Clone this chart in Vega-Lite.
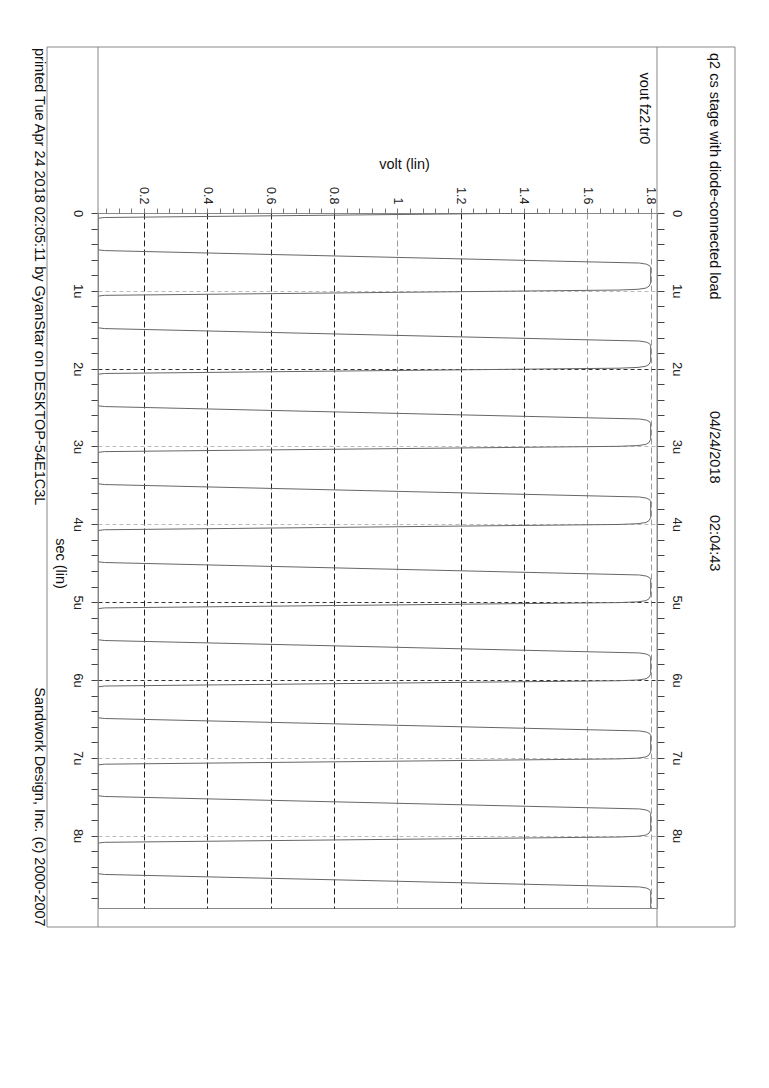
{
  "$schema": "https://vega.github.io/schema/vega-lite/v6.json",
  "width": 559,
  "height": 695,
  "autosize": {"type": "none"},
  "padding": {"left": 98, "top": 213, "right": 112, "bottom": 180},
  "background": "white",
  "config": {
    "view": {"stroke": "#888", "strokeWidth": 1},
    "font": "Liberation Sans",
    "axis": {"labelFont": "Liberation Sans", "titleFont": "Liberation Sans", "titleFontWeight": "normal", "domain": false, "labelFlush": false, "labelOverlap": false, "labelColor": "#222", "titleColor": "#111"}
  },
  "resolve": {"axis": {"x": "independent", "y": "independent"}},
  "layer": [
    {
      "data": {"values": [
        {"t": 0, "v": 1.47}, {"t": 0.058, "v": 0.075}, {"t": 0.068, "v": 0.0548},
        {"t": 0.473, "v": 0.0548}, {"t": 0.483, "v": 0.075}, {"t": 0.643, "v": 1.765}, {"t": 0.658, "v": 1.787}, {"t": 0.678, "v": 1.797}, {"t": 0.703, "v": 1.8},
        {"t": 0.9, "v": 1.8}, {"t": 0.94, "v": 1.795}, {"t": 0.965, "v": 1.785}, {"t": 0.98, "v": 1.76}, {"t": 0.99, "v": 1.7}, {"t": 1.058, "v": 0.075}, {"t": 1.068, "v": 0.0548},
        {"t": 1.475, "v": 0.0548}, {"t": 1.485, "v": 0.075}, {"t": 1.645, "v": 1.765}, {"t": 1.66, "v": 1.787}, {"t": 1.68, "v": 1.797}, {"t": 1.705, "v": 1.8},
        {"t": 1.904, "v": 1.8}, {"t": 1.944, "v": 1.795}, {"t": 1.969, "v": 1.785}, {"t": 1.984, "v": 1.76}, {"t": 1.994, "v": 1.7}, {"t": 2.062, "v": 0.075}, {"t": 2.072, "v": 0.0548},
        {"t": 2.477, "v": 0.0548}, {"t": 2.487, "v": 0.075}, {"t": 2.647, "v": 1.765}, {"t": 2.662, "v": 1.787}, {"t": 2.682, "v": 1.797}, {"t": 2.707, "v": 1.8},
        {"t": 2.908, "v": 1.8}, {"t": 2.948, "v": 1.795}, {"t": 2.973, "v": 1.785}, {"t": 2.988, "v": 1.76}, {"t": 2.998, "v": 1.7}, {"t": 3.066, "v": 0.075}, {"t": 3.076, "v": 0.0548},
        {"t": 3.479, "v": 0.0548}, {"t": 3.489, "v": 0.075}, {"t": 3.649, "v": 1.765}, {"t": 3.664, "v": 1.787}, {"t": 3.684, "v": 1.797}, {"t": 3.709, "v": 1.8},
        {"t": 3.912, "v": 1.8}, {"t": 3.952, "v": 1.795}, {"t": 3.977, "v": 1.785}, {"t": 3.992, "v": 1.76}, {"t": 4.002, "v": 1.7}, {"t": 4.07, "v": 0.075}, {"t": 4.08, "v": 0.0548},
        {"t": 4.481, "v": 0.0548}, {"t": 4.491, "v": 0.075}, {"t": 4.651, "v": 1.765}, {"t": 4.666, "v": 1.787}, {"t": 4.686, "v": 1.797}, {"t": 4.711, "v": 1.8},
        {"t": 4.916, "v": 1.8}, {"t": 4.956, "v": 1.795}, {"t": 4.981, "v": 1.785}, {"t": 4.996, "v": 1.76}, {"t": 5.006, "v": 1.7}, {"t": 5.074, "v": 0.075}, {"t": 5.084, "v": 0.0548},
        {"t": 5.483, "v": 0.0548}, {"t": 5.493, "v": 0.075}, {"t": 5.653, "v": 1.765}, {"t": 5.668, "v": 1.787}, {"t": 5.688, "v": 1.797}, {"t": 5.713, "v": 1.8},
        {"t": 5.92, "v": 1.8}, {"t": 5.96, "v": 1.795}, {"t": 5.985, "v": 1.785}, {"t": 6.0, "v": 1.76}, {"t": 6.01, "v": 1.7}, {"t": 6.078, "v": 0.075}, {"t": 6.088, "v": 0.0548},
        {"t": 6.485, "v": 0.0548}, {"t": 6.495, "v": 0.075}, {"t": 6.655, "v": 1.765}, {"t": 6.67, "v": 1.787}, {"t": 6.69, "v": 1.797}, {"t": 6.715, "v": 1.8},
        {"t": 6.924, "v": 1.8}, {"t": 6.964, "v": 1.795}, {"t": 6.989, "v": 1.785}, {"t": 7.004, "v": 1.76}, {"t": 7.014, "v": 1.7}, {"t": 7.082, "v": 0.075}, {"t": 7.092, "v": 0.0548},
        {"t": 7.487, "v": 0.0548}, {"t": 7.497, "v": 0.075}, {"t": 7.657, "v": 1.765}, {"t": 7.672, "v": 1.787}, {"t": 7.692, "v": 1.797}, {"t": 7.717, "v": 1.8},
        {"t": 7.928, "v": 1.8}, {"t": 7.968, "v": 1.795}, {"t": 7.993, "v": 1.785}, {"t": 8.008, "v": 1.76}, {"t": 8.018, "v": 1.7}, {"t": 8.086, "v": 0.075}, {"t": 8.096, "v": 0.0548},
        {"t": 8.489, "v": 0.0548}, {"t": 8.499, "v": 0.075}, {"t": 8.659, "v": 1.765}, {"t": 8.674, "v": 1.787}, {"t": 8.694, "v": 1.797}, {"t": 8.719, "v": 1.8},
        {"t": 8.93, "v": 1.8}
      ]},
      "mark": {"type": "line", "color": "#666", "strokeWidth": 1, "clip": true},
      "encoding": {
        "x": {
          "field": "v", "type": "quantitative",
          "scale": {"domain": [0.0548, 1.82], "nice": false, "zero": false},
          "axis": {
            "orient": "top", "title": "volt (lin)",
            "values": [0.08,0.12,0.16,0.2,0.24,0.28,0.32,0.36,0.4,0.44,0.48,0.52,0.56,0.6,0.64,0.68,0.72,0.76,0.8,0.84,0.88,0.92,0.96,1,1.04,1.08,1.12,1.16,1.2,1.24,1.28,1.32,1.36,1.4,1.44,1.48,1.52,1.56,1.6,1.64,1.68,1.72,1.76,1.8],
            "labelExpr": "abs(datum.value*5-round(datum.value*5))<0.001 ? format(round(datum.value*5)/5, '.1~f') : ''",
            "labelAngle": 90, "labelAlign": "right", "labelBaseline": "middle", "labelPadding": 4, "labelFontSize": 12.5,
            "tickSize": 5, "tickColor": "#777",
            "grid": true, "gridDash": [6, 3],
            "gridOpacity": {"condition": {"test": "abs(datum.value*5-round(datum.value*5))<0.001", "value": 1}, "value": 0},
            "gridColor": {"condition": {"test": "abs(datum.value-1.6)<0.001 || abs(datum.value-1)<0.001 || abs(datum.value-1.8)<0.001", "value": "#9a9a9a"}, "value": "#222"},
            "titleFontSize": 14.5, "titleX": 306, "titleY": -49, "titleAngle": 0, "titleAlign": "center", "titleBaseline": "middle"
          }
        },
        "y": {
          "field": "t", "type": "quantitative",
          "scale": {"domain": [0, 8.93], "reverse": true, "nice": false, "zero": false},
          "axis": {
            "orient": "left", "title": "sec (lin)",
            "values": [0,0.2,0.4,0.6,0.8,1,1.2,1.4,1.6,1.8,2,2.2,2.4,2.6,2.8,3,3.2,3.4,3.6,3.8,4,4.2,4.4,4.6,4.8,5,5.2,5.4,5.6,5.8,6,6.2,6.4,6.6,6.8,7,7.2,7.4,7.6,7.8,8,8.2,8.4,8.6,8.8],
            "labelExpr": "abs(datum.value-round(datum.value))<0.001 ? (round(datum.value)==0 ? '0' : round(datum.value)+'u') : ''",
            "labelAngle": 90, "labelAlign": "center", "labelBaseline": "middle", "labelPadding": 14, "labelFontSize": 13,
            "tickSize": 7, "tickColor": "#444",
            "grid": true, "gridDash": [4, 3],
            "gridOpacity": {"condition": {"test": "abs(datum.value-round(datum.value))<0.001 && datum.value>0.5", "value": 1}, "value": 0},
            "gridColor": {"condition": {"test": "abs(datum.value-2)<0.001 || abs(datum.value-5)<0.001 || abs(datum.value-6)<0.001", "value": "#333"}, "value": "#bbb"},
            "titleFontSize": 14.5, "titleAngle": 90, "titleX": -39, "titleY": 350, "titleAlign": "center", "titleBaseline": "middle"
          }
        },
        "order": {"field": "t", "type": "quantitative"}
      }
    },
    {
      "data": {"values": [{}]},
      "mark": {"type": "rule", "color": "#888", "strokeWidth": 1, "clip": false},
      "encoding": {
        "x": {"datum": 0.0548, "type": "quantitative", "scale": {"domain": [0.0548, 1.82], "nice": false, "zero": false}, "axis": null},
        "y": {
          "datum": -2.133, "type": "quantitative",
          "scale": {"domain": [0, 8.93], "reverse": true, "nice": false, "zero": false},
          "axis": {
            "orient": "right", "title": null,
            "values": [0,0.2,0.4,0.6,0.8,1,1.2,1.4,1.6,1.8,2,2.2,2.4,2.6,2.8,3,3.2,3.4,3.6,3.8,4,4.2,4.4,4.6,4.8,5,5.2,5.4,5.6,5.8,6,6.2,6.4,6.6,6.8,7,7.2,7.4,7.6,7.8,8,8.2,8.4,8.6,8.8],
            "labelExpr": "abs(datum.value-round(datum.value))<0.001 ? (round(datum.value)==0 ? '0' : round(datum.value)+'u') : ''",
            "labelAngle": 90, "labelAlign": "center", "labelBaseline": "middle", "labelPadding": 12, "labelFontSize": 13,
            "tickSize": 7, "tickColor": "#444", "grid": false
          }
        },
        "y2": {"datum": 9.174}
      }
    },
    {
      "data": {"values": [{}]},
      "mark": {"type": "rule", "color": "#888", "strokeWidth": 1, "clip": false},
      "encoding": {
        "x": {"datum": 1.82, "type": "quantitative", "scale": {"domain": [0.0548, 1.82], "nice": false, "zero": false}, "axis": null},
        "y": {"datum": -2.133, "type": "quantitative", "scale": {"domain": [0, 8.93], "reverse": true, "nice": false, "zero": false}, "axis": null},
        "y2": {"datum": 9.174}
      }
    },
    {
      "data": {"values": [{}]},
      "mark": {"type": "rect", "filled": false, "stroke": "#888", "strokeWidth": 1, "clip": false},
      "encoding": {
        "x": {"datum": -0.1062, "type": "quantitative", "scale": {"domain": [0.0548, 1.82], "nice": false, "zero": false}, "axis": null},
        "x2": {"datum": 2.0663},
        "y": {"datum": -2.133, "type": "quantitative", "scale": {"domain": [0, 8.93], "reverse": true, "nice": false, "zero": false}, "axis": null},
        "y2": {"datum": 9.174}
      }
    },
    {
      "data": {"values": [{}]},
      "mark": {"type": "text", "angle": 90, "align": "left", "baseline": "alphabetic", "fontSize": 14.5, "font": "Liberation Sans", "color": "#111", "clip": false},
      "encoding": {
        "x": {"datum": 1.9873, "type": "quantitative", "scale": {"domain": [0.0548, 1.82], "nice": false, "zero": false}, "axis": null},
        "y": {"datum": -2.056, "type": "quantitative", "scale": {"domain": [0, 8.93], "reverse": true, "nice": false, "zero": false}, "axis": null},
        "text": {"value": "q2 cs stage with diode-connected load"}
      }
    },
    {
      "data": {"values": [{}]},
      "mark": {"type": "text", "angle": 90, "align": "left", "baseline": "alphabetic", "fontSize": 14.5, "font": "Liberation Sans", "color": "#111", "clip": false},
      "encoding": {
        "x": {"datum": 1.9873, "type": "quantitative", "scale": {"domain": [0.0548, 1.82], "nice": false, "zero": false}, "axis": null},
        "y": {"datum": 2.544, "type": "quantitative", "scale": {"domain": [0, 8.93], "reverse": true, "nice": false, "zero": false}, "axis": null},
        "text": {"value": "04/24/2018"}
      }
    },
    {
      "data": {"values": [{}]},
      "mark": {"type": "text", "angle": 90, "align": "left", "baseline": "alphabetic", "fontSize": 14.5, "font": "Liberation Sans", "color": "#111", "clip": false},
      "encoding": {
        "x": {"datum": 1.9873, "type": "quantitative", "scale": {"domain": [0.0548, 1.82], "nice": false, "zero": false}, "axis": null},
        "y": {"datum": 3.88, "type": "quantitative", "scale": {"domain": [0, 8.93], "reverse": true, "nice": false, "zero": false}, "axis": null},
        "text": {"value": "02:04:43"}
      }
    },
    {
      "data": {"values": [{}]},
      "mark": {"type": "text", "angle": 90, "align": "center", "baseline": "alphabetic", "fontSize": 14.5, "font": "Liberation Sans", "color": "#111", "clip": false},
      "encoding": {
        "x": {"datum": 1.7663, "type": "quantitative", "scale": {"domain": [0.0548, 1.82], "nice": false, "zero": false}, "axis": null},
        "y": {"datum": -1.343, "type": "quantitative", "scale": {"domain": [0, 8.93], "reverse": true, "nice": false, "zero": false}, "axis": null},
        "text": {"value": "vout fz2.tr0"}
      }
    },
    {
      "data": {"values": [{}]},
      "mark": {"type": "text", "angle": 90, "align": "left", "baseline": "alphabetic", "fontSize": 14.5, "font": "Liberation Sans", "color": "#111", "clip": false},
      "encoding": {
        "x": {"datum": -0.1457, "type": "quantitative", "scale": {"domain": [0.0548, 1.82], "nice": false, "zero": false}, "axis": null},
        "y": {"datum": -2.12, "type": "quantitative", "scale": {"domain": [0, 8.93], "reverse": true, "nice": false, "zero": false}, "axis": null},
        "text": {"value": "printed Tue Apr 24 2018 02:05:11 by GyanStar on DESKTOP-54E1C3L"}
      }
    },
    {
      "data": {"values": [{}]},
      "mark": {"type": "text", "angle": 90, "align": "right", "baseline": "alphabetic", "fontSize": 14.5, "font": "Liberation Sans", "color": "#111", "clip": false},
      "encoding": {
        "x": {"datum": -0.1457, "type": "quantitative", "scale": {"domain": [0.0548, 1.82], "nice": false, "zero": false}, "axis": null},
        "y": {"datum": 9.17, "type": "quantitative", "scale": {"domain": [0, 8.93], "reverse": true, "nice": false, "zero": false}, "axis": null},
        "text": {"value": "Sandwork Design, Inc. (c) 2000-2007"}
      }
    }
  ]
}
